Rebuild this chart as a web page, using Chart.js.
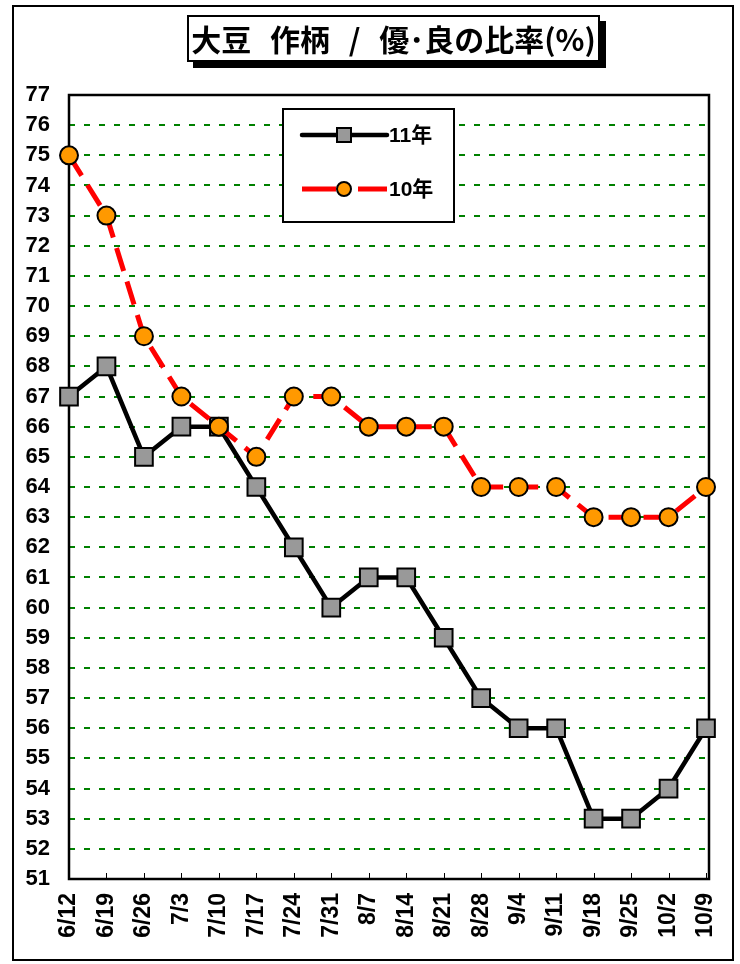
<!DOCTYPE html>
<html>
<head>
<meta charset="utf-8">
<script src="https://cdn.jsdelivr.net/npm/chart.js@4.4.1/dist/chart.umd.min.js"></script>
<style>
  html, body { margin: 0; padding: 0; background: #fff; }
  #wrap { position: relative; width: 740px; height: 964px; }
  #frame { position: absolute; left: 12px; top: 5px; width: 718px; height: 952px; border: 2px solid #000; box-sizing: content-box; pointer-events: none; }
  #title { position: absolute; left: 187px; top: 15px; width: 409px; height: 43px; border: 2px solid #000; background: #fff;
           box-shadow: 6px 6px 0 #000; font: bold 30px "Noto Sans CJK JP", "Liberation Sans", sans-serif;
           text-align: center; line-height: 43px; white-space: nowrap; color: #000; word-spacing: 12px; }
  canvas { position: absolute; left: 0; top: 0; }
</style>
</head>
<body>
<div id="wrap">
  <canvas id="c" width="740" height="964"></canvas>
  <div id="frame"></div>
  <div id="title">大豆 作柄 / 優･良の比率(%)</div>
</div>
<script>
const categories = ["6/12","6/19","6/26","7/3","7/10","7/17","7/24","7/31","8/7","8/14","8/21","8/28","9/4","9/11","9/18","9/25","10/2","10/9"];
const series11 = [67,68,65,66,66,64,62,60,61,61,59,57,56,56,53,53,54,56];
const series10 = [75,73,69,67,66,65,67,67,66,66,66,64,64,64,63,63,63,64];
const seriesNames = ["11年","10年"];
const yMin = 51, yMax = 77;

const toPts = arr => arr.map((v, i) => ({ x: i, y: v }));

const frameAndLegend = {
  id: 'frameAndLegend',
  beforeDatasetsDraw(chart) {
    const ctx = chart.ctx, a = chart.chartArea;
    const xs = chart.scales.x;
    ctx.save();
    ctx.strokeStyle = '#000'; ctx.lineWidth = 1;
    for (let i = 1; i < categories.length; i++) {
      const px = Math.round(xs.getPixelForValue(i)) + 0.5;
      ctx.beginPath(); ctx.moveTo(px, a.bottom); ctx.lineTo(px, a.bottom - 6); ctx.stroke();
    }
    ctx.lineWidth = 2.5; ctx.strokeStyle = '#000';
    ctx.strokeRect(a.left, a.top, a.right - a.left, a.bottom - a.top);
    ctx.restore();
  },
  afterDraw(chart) {
    const ctx = chart.ctx;
    ctx.save();
    const lx = 283, ly = 109, lw = 171, lh = 113;
    ctx.fillStyle = '#fff'; ctx.fillRect(lx, ly, lw, lh);
    ctx.lineWidth = 2; ctx.strokeStyle = '#000'; ctx.strokeRect(lx, ly, lw, lh);
    const ds = chart.data.datasets;
    const rows = [{ d: ds[0], y: 135 }, { d: ds[1], y: 189 }];
    rows.forEach(r => {
      const d = r.d;
      ctx.save();
      ctx.strokeStyle = d.borderColor; ctx.lineWidth = d.borderWidth;
      ctx.lineCap = 'round';
      if (d.borderDash && d.borderDash.length) {
        ctx.lineCap = 'butt';
        ctx.beginPath(); ctx.moveTo(302, r.y); ctx.lineTo(336, r.y); ctx.moveTo(358, r.y); ctx.lineTo(387, r.y); ctx.stroke();
      } else {
        ctx.beginPath(); ctx.moveTo(302, r.y); ctx.lineTo(387, r.y); ctx.stroke();
      }
      ctx.fillStyle = d.pointBackgroundColor; ctx.strokeStyle = '#000'; ctx.lineWidth = 2;
      if (d.pointStyle === 'rect') {
        ctx.fillRect(337, r.y - 7, 14, 14); ctx.strokeRect(337, r.y - 7, 14, 14);
      } else {
        ctx.beginPath(); ctx.arc(344, r.y, 7, 0, Math.PI * 2); ctx.fill(); ctx.stroke();
      }
      ctx.restore();
      ctx.fillStyle = '#000';
      ctx.font = 'bold 21px "Liberation Sans", "Noto Sans CJK JP", sans-serif';
      ctx.textAlign = 'left'; ctx.textBaseline = 'middle';
      ctx.fillText(d.label, 389, r.y + 1);
    });
    ctx.restore();
  }
};

new Chart(document.getElementById('c'), {
  type: 'line',
  data: {
    datasets: [
      {
        label: seriesNames[0], data: toPts(series11), order: 2, clip: false,
        borderColor: '#000', borderWidth: 4.5, pointStyle: 'rect', pointRadius: 12.5,
        pointBackgroundColor: '#999999', pointBorderColor: '#000', pointBorderWidth: 2,
        tension: 0, fill: false
      },
      {
        label: seriesNames[1], data: toPts(series10), order: 1, clip: false,
        borderColor: '#ff0000', borderWidth: 5, borderDash: [24, 11], pointStyle: 'circle', pointRadius: 9,
        pointBackgroundColor: '#ff9900', pointBorderColor: '#000', pointBorderWidth: 2,
        tension: 0, fill: false
      }
    ]
  },
  options: {
    responsive: false, animation: false,
    layout: { padding: { left: 0, right: 31, top: 95, bottom: 0 } },
    plugins: { legend: { display: false }, tooltip: { enabled: false }, title: { display: false } },
    elements: { line: { borderCapStyle: 'butt', borderJoinStyle: 'round' } },
    scales: {
      x: {
        type: 'linear', min: 0, max: 17.08,
        afterBuildTicks: s => { s.ticks = categories.map((c, i) => ({ value: i })); },
        afterFit: s => { s.height = 85; s.paddingLeft = 0; s.paddingRight = 0; },
        ticks: {
          autoSkip: false, minRotation: 90, maxRotation: 90, padding: 14, color: '#000',
          font: { family: '"Liberation Sans", Arial, sans-serif', size: 23, weight: 'bold' },
          callback: (v) => categories[v]
        },
        grid: { display: false, drawTicks: false },
        border: { display: false }
      },
      y: {
        min: yMin, max: yMax,
        afterFit: s => { s.width = 69; s.paddingTop = 0; s.paddingBottom = 0; },
        ticks: {
          stepSize: 1, padding: 19, color: '#000',
          font: { family: '"Liberation Sans", Arial, sans-serif', size: 22, weight: 'bold' }
        },
        grid: { color: '#008000', lineWidth: 2, drawTicks: false, tickLength: 0 },
        border: { display: false, dash: [6, 9] }
      }
    }
  },
  plugins: [frameAndLegend]
});
</script>
</body>
</html>
